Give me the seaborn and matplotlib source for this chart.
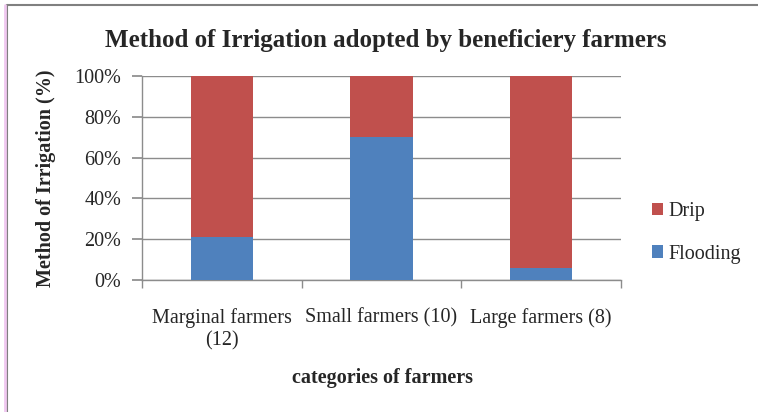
import matplotlib
matplotlib.use("Agg")
import matplotlib.pyplot as plt
import seaborn as sns
import pandas as pd
from matplotlib.lines import Line2D
from matplotlib.patches import Patch

categories = ["Marginal farmers\n(12)", "Small farmers (10)", "Large farmers (8)"]
flooding = [21, 70, 6]
drip = [79, 30, 94]
yticks = [0, 20, 40, 60, 80, 100]
ytick_labels = ["0%", "20%", "40%", "60%", "80%", "100%"]

sns.set_theme(style="white")
plt.rcParams["font.family"] = ["Liberation Serif", "DejaVu Serif"]

BLUE = "#4F81BD"
RED = "#C0504D"
GREY = "#8C8C8C"
FS = 14.5

df = pd.DataFrame({"category": categories, "Flooding": flooding, "Drip": drip})
df["total"] = df["Flooding"] + df["Drip"]

fig = plt.figure(figsize=(7.58, 4.12), dpi=100)
W, H = 758, 412
ax = fig.add_axes([142 / W, 1 - 280 / H, (621 - 142) / W, (280 - 76) / H])

sns.barplot(data=df, x="category", y="total", color=RED, width=0.39,
            saturation=1, ax=ax, zorder=3, edgecolor="none", linewidth=0)
sns.barplot(data=df, x="category", y="Flooding", color=BLUE, width=0.39,
            saturation=1, ax=ax, zorder=4, edgecolor="none", linewidth=0)

ax.set_xlim(-0.5, 2.5)
ax.set_ylim(0, 100)
ax.set_yticks(yticks)
ax.set_yticklabels(ytick_labels, fontsize=FS)
ax.yaxis.grid(True, color=GREY, linewidth=1, zorder=0)
ax.set_axisbelow(True)
for s in ["top", "right"]:
    ax.spines[s].set_visible(False)
for s in ["left", "bottom"]:
    ax.spines[s].set_color(GREY)
    ax.spines[s].set_linewidth(1)
ax.tick_params(axis="y", which="major", left=True, length=7, color=GREY,
               pad=8, labelsize=FS)
ax.set_xticks([0, 1, 2])
ax.set_xticklabels(categories, fontsize=FS, linespacing=1.25)
ax.tick_params(axis="x", which="major", bottom=False, pad=14)
ax.set_xticks([-0.5, 0.5, 1.5, 2.5], minor=True)
ax.tick_params(axis="x", which="minor", bottom=True, length=6, color=GREY)
ax.set_xlabel("")
ax.set_ylabel("")

fig.text(386 / W, 1 - 40 / H, "Method of Irrigation adopted by beneficiery farmers",
         ha="center", va="center", fontsize=18, fontweight="bold")
fig.text(46 / W, 1 - 178 / H, "Method of Irrigation (%)", rotation=90,
         ha="center", va="center", fontsize=FS, fontweight="bold")
fig.text(383 / W, 1 - 378 / H, "categories of farmers",
         ha="center", va="center", fontsize=FS, fontweight="bold")

handles = [Patch(facecolor=RED, edgecolor="none"), Patch(facecolor=BLUE, edgecolor="none")]
fig.legend(handles, ["Drip", "Flooding"], loc="center left",
           bbox_to_anchor=(652 / W, 1 - 233 / H), frameon=False, fontsize=FS,
           handlelength=0.55, handleheight=0.55, handletextpad=0.25, labelspacing=1.15,
           borderaxespad=0, borderpad=0)

# outer chart border
fig.add_artist(Line2D([7 / W, 1], [1 - 5 / H, 1 - 5 / H], color="#808080", linewidth=1.5,
                      transform=fig.transFigure))
fig.add_artist(Line2D([7 / W, 7 / W], [0, 1 - 5 / H], color="#808080", linewidth=1.5,
                      transform=fig.transFigure))
fig.add_artist(Line2D([4.5 / W, 4.5 / W], [0, 1 - 5 / H], color="#F0C8F0", linewidth=2,
                      transform=fig.transFigure))

fig.savefig("out.png", dpi=100, facecolor="white")
